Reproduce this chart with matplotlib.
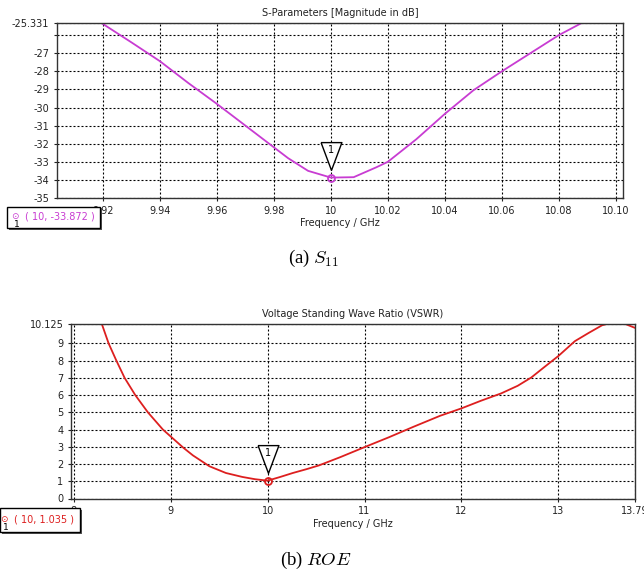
import matplotlib
matplotlib.use('Agg')
import matplotlib.pyplot as plt
import matplotlib.transforms as mtransforms
from matplotlib.patches import Rectangle

# ============ 数据 ============
# S11 (dB)
s11_freq = [9.915, 9.9195, 9.93, 9.94, 9.95, 9.96, 9.97, 9.98, 9.985, 9.992, 10.0,
            10.008, 10.016, 10.02, 10.03, 10.04, 10.05, 10.06, 10.07, 10.08, 10.088, 10.092]
s11_db = [-24.85, -25.331, -26.4, -27.44, -28.65, -29.8, -31.0, -32.2, -32.8, -33.5, -33.872,
          -33.85, -33.3, -33.0, -31.75, -30.35, -29.05, -28.0, -27.0, -26.0, -25.331, -24.93]
s11_mark = (10, -33.872)
s11_xticks = [9.92, 9.94, 9.96, 9.98, 10.0, 10.02, 10.04, 10.06, 10.08, 10.10]
s11_xlabels = ['9.92', '9.94', '9.96', '9.98', '10', '10.02', '10.04', '10.06', '10.08', '10.10']
s11_yticks = [-25.331, -26, -27, -28, -29, -30, -31, -32, -33, -34, -35]
s11_ylabels = ['-25.331', '', '-27', '-28', '-29', '-30', '-31', '-32', '-33', '-34', '-35']

# VSWR
vswr_freq = [8.22, 8.29, 8.36, 8.44, 8.525, 8.635, 8.765, 8.92, 9.0, 9.13, 9.23, 9.40,
             9.57, 9.74, 9.87, 10.0, 10.13, 10.26, 10.40, 10.53, 10.75, 11.0, 11.25, 11.5,
             11.78, 12.0, 12.2, 12.41, 12.58, 12.72, 12.86, 13.0, 13.17, 13.31, 13.45,
             13.5, 13.6, 13.69, 13.79]
vswr_val = [11.2, 10.125, 9.0, 8.0, 7.0, 6.0, 5.0, 4.0, 3.6, 2.95, 2.5, 1.87,
            1.48, 1.25, 1.12, 1.035, 1.25, 1.48, 1.7, 1.92, 2.4, 2.98, 3.55, 4.15,
            4.8, 5.23, 5.67, 6.1, 6.54, 7.02, 7.65, 8.27, 9.13, 9.6, 10.05,
            10.125, 10.3, 10.125, 9.9]
vswr_mark = (10, 1.035)
vswr_xticks = [8, 9, 10, 11, 12, 13, 13.79]
vswr_xlabels = ['8', '9', '10', '11', '12', '13', '13.79']
vswr_yticks = [0, 1, 2, 3, 4, 5, 6, 7, 8, 9, 10.125]
vswr_ylabels = ['0', '1', '2', '3', '4', '5', '6', '7', '8', '9', '10.125']

MAGENTA = '#c83cd2'
RED = '#dd1f1f'
W, H = 644, 574

plt.rcParams['font.family'] = ['DejaVu Sans']
plt.rcParams['mathtext.fontset'] = 'cm'


def px_axes(fig, left, top, right, bottom):
    """像素坐标 -> figure 坐标"""
    return fig.add_axes([left / W, 1 - bottom / H, (right - left) / W, (bottom - top) / H])


def style_axes(ax, title, xticks, xlabels, yticks, ylabels):
    ax.set_title(title, fontsize=7, pad=5, color='#222222')
    ax.set_xticks(xticks)
    ax.set_xticklabels(xlabels)
    ax.set_yticks(yticks)
    ax.set_yticklabels(ylabels)
    ax.set_xlabel('Frequency / GHz', fontsize=7, labelpad=2, color='#222222')
    ax.tick_params(labelsize=7, length=2.5, width=0.8, pad=3, colors='#222222')
    ax.grid(True, color='black', linestyle=(0, (1.8, 1.8)), linewidth=0.8)
    for sp in ax.spines.values():
        sp.set_color('#333333')
        sp.set_linewidth(1.0)


def draw_marker(fig, ax, x, y, color):
    ax.plot([x], [y], marker='o', ms=5, mfc='none', mec=color, mew=1.3, zorder=5)
    tri = [(-0.75, 1), (0.75, 1), (0, -1), (-0.75, 1)]
    tr = mtransforms.offset_copy(ax.transData, fig=fig, x=0, y=15.5, units='points')
    ax.plot([x], [y], transform=tr, marker=tri, ms=20, mfc='white', mec='black',
            mew=1.0, zorder=6, clip_on=False)
    tr2 = mtransforms.offset_copy(ax.transData, fig=fig, x=0, y=20, units='points')
    ax.text(x, y, '1', transform=tr2, ha='center', va='center', fontsize=7, zorder=7)


def marker_box(fig, left, top, right, bottom, text, color, icon_x):
    fig.add_artist(Rectangle(((left + 1.5) / W, 1 - (bottom + 1.5) / H), (right - left) / W,
                             (bottom - top) / H, transform=fig.transFigure,
                             fc='#555555', ec='none', zorder=1))
    fig.add_artist(Rectangle((left / W, 1 - bottom / H), (right - left) / W,
                             (bottom - top) / H, transform=fig.transFigure,
                             fc='white', ec='black', lw=1.0, zorder=2))
    yc = (top + bottom) / 2 - 1
    fig.text(icon_x / W, 1 - yc / H, '\u2299', color=color, fontsize=6.5,
             ha='center', va='center', zorder=3)
    fig.text((icon_x + 2) / W, 1 - (yc + 8) / H, '1', color='black', fontsize=6.5,
             ha='center', va='center', zorder=3)
    fig.text((icon_x + 10) / W, 1 - yc / H, text, color=color, fontsize=7,
             ha='left', va='center', zorder=3)


fig = plt.figure(figsize=(W / 100, H / 100), dpi=100)

# ---- (a) S11 ----
ax1 = px_axes(fig, 57, 23, 623, 198)
ax1.plot(s11_freq, s11_db, color=MAGENTA, linewidth=1.3)
ax1.set_xlim(9.9039, 10.1025)
ax1.set_ylim(-35, -25.331)
style_axes(ax1, 'S-Parameters [Magnitude in dB]', s11_xticks, s11_xlabels, s11_yticks, s11_ylabels)
draw_marker(fig, ax1, s11_mark[0], s11_mark[1], MAGENTA)
marker_box(fig, 7, 207, 100, 228, '( %g, %.3f )' % s11_mark, MAGENTA, 15)

# ---- (b) VSWR ----
ax2 = px_axes(fig, 71, 324, 635, 498.5)
ax2.plot(vswr_freq, vswr_val, color=RED, linewidth=1.3)
ax2.set_xlim(7.972, 13.79)
ax2.set_ylim(0, 10.125)
style_axes(ax2, 'Voltage Standing Wave Ratio (VSWR)', vswr_xticks, vswr_xlabels, vswr_yticks, vswr_ylabels)
draw_marker(fig, ax2, vswr_mark[0], vswr_mark[1], RED)
marker_box(fig, 0, 508, 80, 532, '( %g, %.3f )' % vswr_mark, RED, 4)

# ---- captions ----
fig.text(314 / W, 1 - 258 / H, r'(a) $S_{11}$', fontsize=13.5, family='Liberation Serif',
         ha='center', va='center')
fig.text(316 / W, 1 - 560 / H, r'(b) $ROE$', fontsize=13.5, family='Liberation Serif',
         ha='center', va='center')

plt.savefig('out.png', dpi=100, facecolor='white')
plt.close()
